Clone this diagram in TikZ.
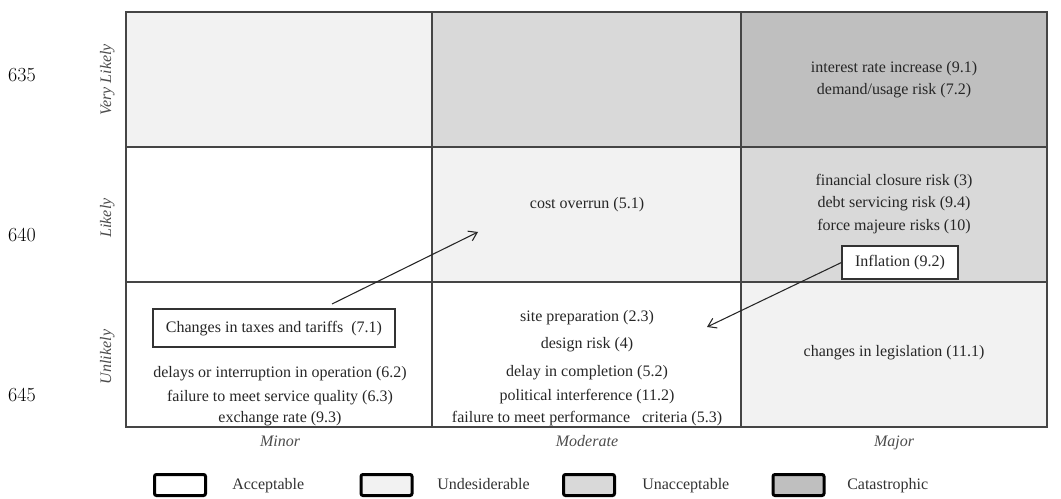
\documentclass[tikz,border=0pt]{standalone}
\usepackage{fontspec}
\setmainfont{Liberation Serif}
\newfontfamily\linenumfont{Latin Modern Roman}
\usetikzlibrary{arrows.meta}
\definecolor{undesired}{HTML}{F2F2F2}
\definecolor{unaccept}{HTML}{D9D9D9}
\definecolor{catastro}{HTML}{BFBFBF}
\definecolor{gridgray}{HTML}{454545}

\begin{document}
\begin{tikzpicture}[x=0.75pt,y=0.75pt,yscale=-1,xscale=1,
  risk/.style={inner sep=0.75pt, text height=8.5pt, text depth=2.5pt, font=\fontsize{12}{14}\selectfont, text=black!85},
  riskbox/.style={draw=black!80, line width=0.8pt, fill=white, inner sep=0pt, text height=8.5pt, text depth=2.5pt, font=\fontsize{12}{14}\selectfont, text=black!85},
  axis/.style={inner sep=0.75pt, text height=8.5pt, text depth=2.5pt, font=\fontsize{12}{14}\selectfont\itshape, text=black!70},
  legbox/.style={draw=black, line width=2.25pt, rounded corners=1.5pt, minimum width=38.25pt, minimum height=15.75pt, inner sep=0pt},
  legtext/.style={anchor=west, inner sep=0pt, text height=8.5pt, text depth=2.5pt, font=\fontsize{12}{14}\selectfont, text=black!80},
  linenum/.style={inner sep=0pt, font=\linenumfont\fontsize{15}{18}\selectfont},
  shift arrow/.style={draw=black!85, line width=0.8pt, -{Straight Barb[length=6pt,width=8pt]}}]
\useasboundingbox (0,0) rectangle (1061,499);

%Cells
\fill[undesired] (126,12) rectangle (432,147);
\fill[unaccept] (432,12) rectangle (741,147);
\fill[catastro] (741,12) rectangle (1047,147);
\fill[undesired] (432,147) rectangle (741,282);
\fill[unaccept] (741,147) rectangle (1047,282);
\fill[undesired] (741,282) rectangle (1047,427);

%Grid lines
\draw[gridgray, line width=1.1pt] (126,12) rectangle (1047,427);
\draw[gridgray, line width=1.1pt] (432,12) -- (432,427) (741,12) -- (741,427);
\draw[gridgray, line width=1.1pt] (126,147) -- (1047,147) (126,282) -- (1047,282);

% Line numbers
\node[linenum] (n635) at (22,75) {635};
\node[linenum] (n640) at (22,235) {640};
\node[linenum] (n645) at (22,395) {645};

% Likelihood labels
\node[axis, rotate=90] (vlikely) at (107,80) {Very Likely};
\node[axis, rotate=90] (likely) at (107,218) {Likely};
\node[axis, rotate=90] (unlikely) at (107,357) {Unlikely};

% Impact labels
\node[axis] (minor) at (280,442) {Minor};
\node[axis] (moderate) at (587,442) {Moderate};
\node[axis] (major) at (894,442) {Major};

% Very likely / major
\node[risk] (interest) at (894,69) {interest rate increase (9.1)};
\node[risk] (demand) at (894,91) {demand/usage risk (7.2)};

% Likely
\node[risk] (cost) at (587,205) {cost overrun (5.1)};
\node[risk] (closure) at (894,182) {financial closure risk (3)};
\node[risk] (debt) at (894,204) {debt servicing risk (9.4)};
\node[risk] (force) at (894,227) {force majeure risks (10)};
\node[riskbox, minimum width=87pt, minimum height=24.75pt] (infl) at (900,262.5) {Inflation (9.2)};

% Unlikely / minor
\node[riskbox, minimum width=181.5pt, minimum height=28.5pt] (taxes) at (274,328) {Changes in taxes and tariffs\ \ (7.1)};
\node[risk] (delays) at (280,373) {delays or interruption in operation (6.2)};
\node[risk] (service) at (280,397) {failure to meet service quality (6.3)};
\node[risk] (exchange) at (280,418) {exchange rate (9.3)};

% Unlikely / moderate
\node[risk] (site) at (587,317) {site preparation (2.3)};
\node[risk] (design) at (587,344) {design risk (4)};
\node[risk] (delay) at (587,372) {delay in completion (5.2)};
\node[risk] (political) at (587,396) {political interference (11.2)};
\node[risk] (perform) at (587,418) {failure to meet performance\ \ \ criteria (5.3)};

% Unlikely / major
\node[risk] (legis) at (894,352) {changes in legislation (11.1)};

%Straight Lines
\coordinate (taxtail) at (332,304);
\coordinate (costhead) at (478,232);
\draw[shift arrow] (taxtail) -- (costhead);
\coordinate (sitehead) at (707,327);
\draw[shift arrow] (infl.west) -- (sitehead);

% Legend
\node[legbox, fill=white] (accbox) at (180,485) {};
\node[legtext] (acc) at (232,485) {Acceptable};
\node[legbox, fill=undesired] (undbox) at (386.5,485) {};
\node[legtext] (und) at (437,485) {Undesiderable};
\node[legbox, fill=unaccept] (unabox) at (589,485) {};
\node[legtext] (una) at (642,485) {Unacceptable};
\node[legbox, fill=catastro] (catbox) at (798.5,485) {};
\node[legtext] (cat) at (847,485) {Catastrophic};

\end{tikzpicture}
\end{document}
